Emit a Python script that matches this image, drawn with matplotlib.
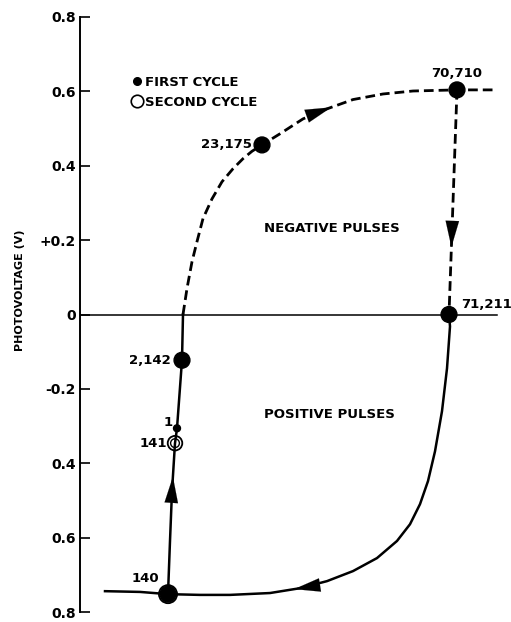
import numpy as np
import matplotlib.pyplot as plt
from matplotlib.lines import Line2D

plt.rcParams['font.family'] = ['DejaVu Sans']
plt.rcParams['font.weight'] = 'bold'

# curve (x in arbitrary pulse-axis units, y in volts)
rise_x = [0.88, 0.90, 0.92, 0.95, 0.97, 1.02, 1.03]
rise_y = [-0.752, -0.609, -0.475, -0.346, -0.306, -0.123, 0.000]

upper_x = [1.03, 1.07, 1.12, 1.17, 1.23, 1.32, 1.42, 1.53, 1.63, 1.72, 1.82,
           2.00, 2.23, 2.47, 2.73, 3.03, 3.33, 3.77, 4.17]
upper_y = [0.000, 0.070, 0.142, 0.196, 0.258, 0.311, 0.357, 0.392, 0.419, 0.439, 0.456,
           0.486, 0.526, 0.553, 0.578, 0.593, 0.601, 0.604, 0.604]

drop_x = [3.77, 3.69]
drop_y = [0.604, 0.000]

lower_x = [3.69, 3.70, 3.67, 3.62, 3.55, 3.48, 3.40, 3.30, 3.17, 2.97, 2.73, 2.47,
           2.20, 1.90, 1.50, 1.20, 0.88, 0.60, 0.25]
lower_y = [0.000, -0.032, -0.145, -0.260, -0.368, -0.448, -0.510, -0.564, -0.609,
           -0.655, -0.690, -0.717, -0.736, -0.749, -0.754, -0.754, -0.752, -0.746, -0.744]

# labelled pulses
first_labels = ['1', '2,142', '23,175', '70,710', '71,211', '140']
first_x = [0.97, 1.02, 1.82, 3.77, 3.69, 0.88]
first_y = [-0.306, -0.123, 0.456, 0.604, 0.000, -0.752]
first_size = [25, 130, 130, 130, 130, 130]

second_labels = ['141', '140']
second_x = [0.95, 0.88]
second_y = [-0.346, -0.752]

label_offsets = {'1': (-3, 4), '2,142': (-8, 0), '23,175': (-7, 0), '70,710': (0, 12),
                 '71,211': (9, 7), '140': (-6, 11), '141': (-6, 0)}

ytick_vals = [0.8, 0.6, 0.4, 0.2, 0.0, -0.2, -0.4, -0.6, -0.8]
ytick_text = ['0.8', '0.6', '0.4', '+0.2', '0', '-0.2', '0.4', '0.6', '0.8']


def add_arrow(ax, xs, ys, frac):
    # place an arrow head along the curve at a fraction of its drawn length
    pts = ax.transData.transform(np.column_stack([xs, ys]))
    seg = np.hypot(*np.diff(pts, axis=0).T)
    cum = np.concatenate([[0], np.cumsum(seg)])
    target = frac * cum[-1]
    i = min(np.searchsorted(cum, target) - 1, len(seg) - 1)
    t = (target - cum[i]) / seg[i]
    tip = pts[i] + t * (pts[i + 1] - pts[i])
    d = (pts[i + 1] - pts[i]) / seg[i]
    tail = tip - d * 4
    inv = ax.transData.inverted()
    ax.annotate('', xy=inv.transform(tip), xytext=inv.transform(tail),
                arrowprops=dict(arrowstyle='-|>,head_length=0.85,head_width=0.22',
                                mutation_scale=22, color='black', lw=0.1,
                                shrinkA=0, shrinkB=0))


fig = plt.figure(figsize=(5.11, 6.22), dpi=100)
ax = fig.add_axes([80 / 511, 10 / 622, 431 / 511, 595 / 622])
ax.set_xlim(0, 4.31)
ax.set_ylim(-0.8, 0.8)

ax.plot([0, 4.17], [0, 0], color='black', lw=1.1)
ax.plot(rise_x, rise_y, color='black', lw=1.8)
ax.plot(upper_x, upper_y, color='black', lw=2.0, dashes=(3.5, 1.8))
ax.plot(drop_x, drop_y, color='black', lw=2.0, dashes=(3.5, 1.8))
ax.plot(lower_x, lower_y, color='black', lw=1.8)

ax.scatter(first_x, first_y, s=first_size, color='black', zorder=4)
ax.scatter(second_x, second_y, s=[110, 170], facecolor='none', edgecolor='black',
           lw=1.3, zorder=5)
ax.scatter(second_x[:1], second_y[:1], s=[40], facecolor='none', edgecolor='black',
           lw=1.0, zorder=5)

for lab, x, y in zip(first_labels + second_labels[:1], first_x + second_x[:1],
                     first_y + second_y[:1]):
    dx, dy = label_offsets[lab]
    ha = 'center' if dx == 0 else ('left' if dx > 0 else 'right')
    ax.annotate(lab, (x, y), xytext=(dx, dy), textcoords='offset points',
                ha=ha, va='center', fontsize=9.5, fontweight='bold')

add_arrow(ax, rise_x, rise_y, 0.42)
add_arrow(ax, upper_x, upper_y, 0.62)
add_arrow(ax, drop_x, drop_y, 0.70)
add_arrow(ax, lower_x, lower_y, 0.65)

ax.text(2.52, 0.231, 'NEGATIVE PULSES', ha='center', va='center', fontsize=9.5)
ax.text(2.49, -0.268, 'POSITIVE PULSES', ha='center', va='center', fontsize=9.5)

handles = [Line2D([], [], ls='none', marker='o', ms=5.5, color='black'),
           Line2D([], [], ls='none', marker='o', ms=9, mfc='none', mec='black', mew=1.2)]
ax.legend(handles, ['FIRST CYCLE', 'SECOND CYCLE'], loc='upper left',
          bbox_to_anchor=(0.118, 0.901), frameon=False, handlelength=1.0,
          handletextpad=0.05, labelspacing=0.5, borderpad=0, borderaxespad=0,
          prop={'size': 9.5, 'weight': 'bold'})

for s in ['top', 'right', 'bottom']:
    ax.spines[s].set_visible(False)
ax.spines['left'].set_linewidth(1.4)
ax.set_xticks([])
ax.set_yticks(ytick_vals)
ax.set_yticklabels(ytick_text)
ax.tick_params(axis='y', direction='in', length=7, width=1.2, labelsize=10, pad=3)

ax.set_ylabel('PHOTOVOLTAGE (V)', fontsize=8, fontweight='bold')
ax.yaxis.set_label_coords(-0.128, 0.54)

fig.savefig('out.png', dpi=100)
